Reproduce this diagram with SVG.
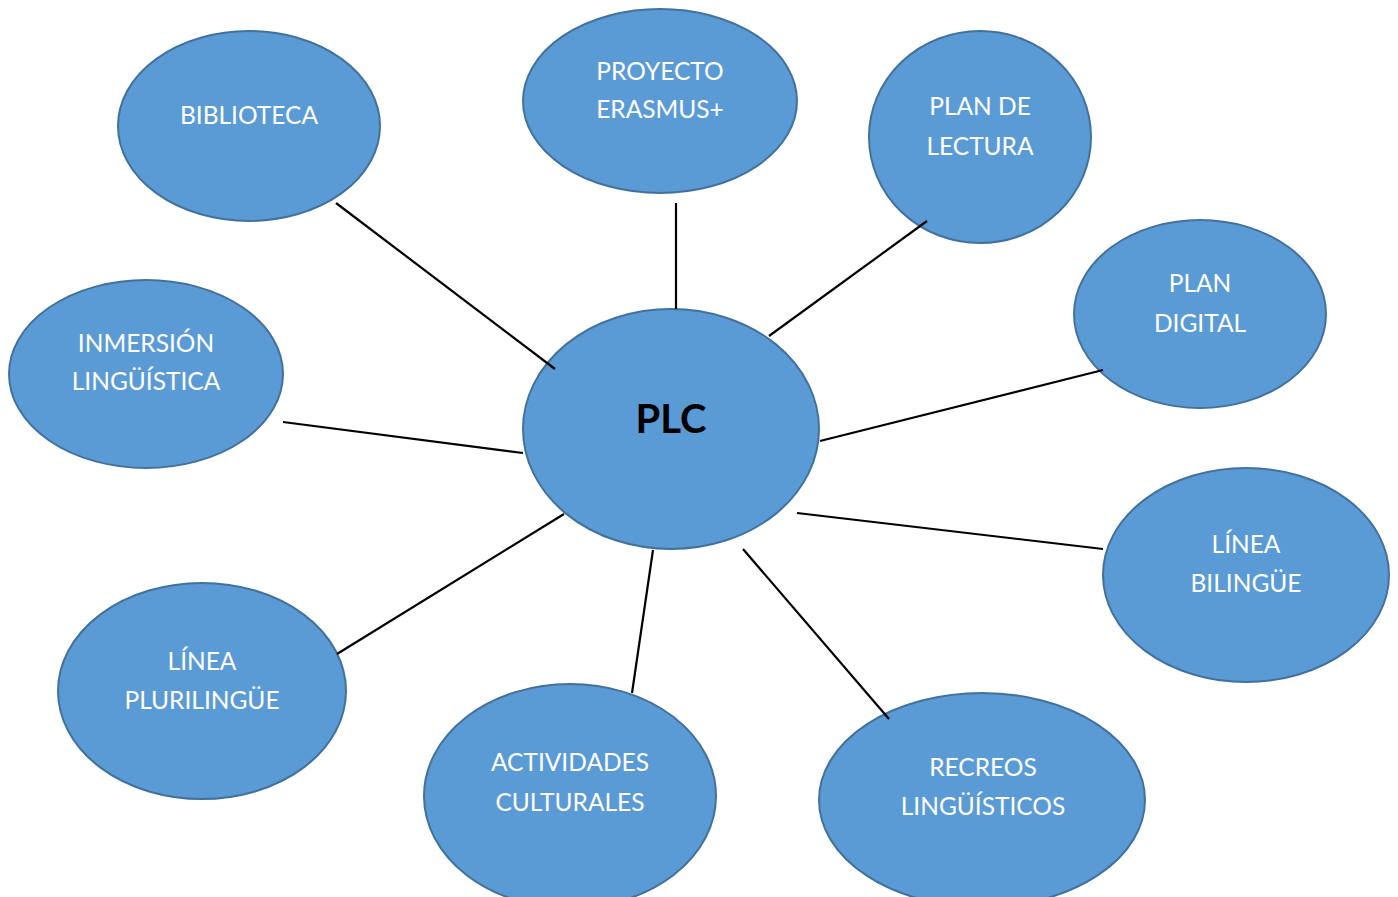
<svg xmlns="http://www.w3.org/2000/svg" width="1398" height="897" viewBox="0 0 1398 897">
<style>
.n{fill:#5b9bd5;stroke:#41719c;stroke-width:2}
.t{font-family:Lato,"Open Sans","Liberation Sans",sans-serif;font-size:24.5px;fill:#fff;text-anchor:middle}
.c line{stroke:#000;stroke-width:2.2}
</style>
<rect width="1398" height="897" fill="#fff"/>
<g id="n-biblioteca"><ellipse class="n" cx="249" cy="126" rx="131" ry="95"/><text class="t" x="249" y="124">BIBLIOTECA</text></g>
<g id="n-erasmus"><ellipse class="n" cx="660" cy="101" rx="137" ry="92"/><text class="t" x="660" y="80">PROYECTO</text><text class="t" x="660" y="118">ERASMUS+</text></g>
<g id="n-lectura"><ellipse class="n" cx="980" cy="137" rx="111" ry="106"/><text class="t" x="980" y="115">PLAN DE</text><text class="t" x="980" y="155">LECTURA</text></g>
<g id="n-digital"><ellipse class="n" cx="1200" cy="314" rx="126" ry="94"/><text class="t" x="1200" y="292">PLAN</text><text class="t" x="1200" y="332">DIGITAL</text></g>
<g id="n-inmersion"><ellipse class="n" cx="146" cy="374" rx="137" ry="94"/><text class="t" x="146" y="352">INMERSIÓN</text><text class="t" x="146" y="390">LINGÜÍSTICA</text></g>
<g id="n-bilingue"><ellipse class="n" cx="1246" cy="575" rx="143" ry="107"/><text class="t" x="1246" y="553">LÍNEA</text><text class="t" x="1246" y="592">BILINGÜE</text></g>
<g id="n-plurilingue"><ellipse class="n" cx="202" cy="691" rx="144" ry="108"/><text class="t" x="202" y="670">LÍNEA</text><text class="t" x="202" y="709">PLURILINGÜE</text></g>
<g id="n-actividades"><ellipse class="n" cx="570" cy="796" rx="146" ry="112"/><text class="t" x="570" y="771">ACTIVIDADES</text><text class="t" x="570" y="811">CULTURALES</text></g>
<g id="n-recreos"><ellipse class="n" cx="982" cy="800" rx="163" ry="107"/><text class="t" x="983" y="776">RECREOS</text><text class="t" x="983" y="815">LINGÜÍSTICOS</text></g>
<g id="n-plc"><ellipse class="n" cx="671" cy="429" rx="148" ry="120"/><text x="671" y="433" style="font-family:Lato,'Open Sans','Liberation Sans',sans-serif;font-size:40px;font-weight:bold;fill:#000;text-anchor:middle">PLC</text></g>
<g id="connectors" class="c">
<line x1="336" y1="203" x2="555" y2="369"/>
<line x1="676" y1="203" x2="676" y2="309"/>
<line x1="769" y1="336" x2="927" y2="221"/>
<line x1="820" y1="441" x2="1103" y2="370"/>
<line x1="283" y1="422" x2="523" y2="453"/>
<line x1="797" y1="513" x2="1103" y2="549"/>
<line x1="564" y1="514" x2="337" y2="654"/>
<line x1="653" y1="550" x2="632" y2="693"/>
<line x1="743" y1="549" x2="889" y2="719"/>
</g>
</svg>
